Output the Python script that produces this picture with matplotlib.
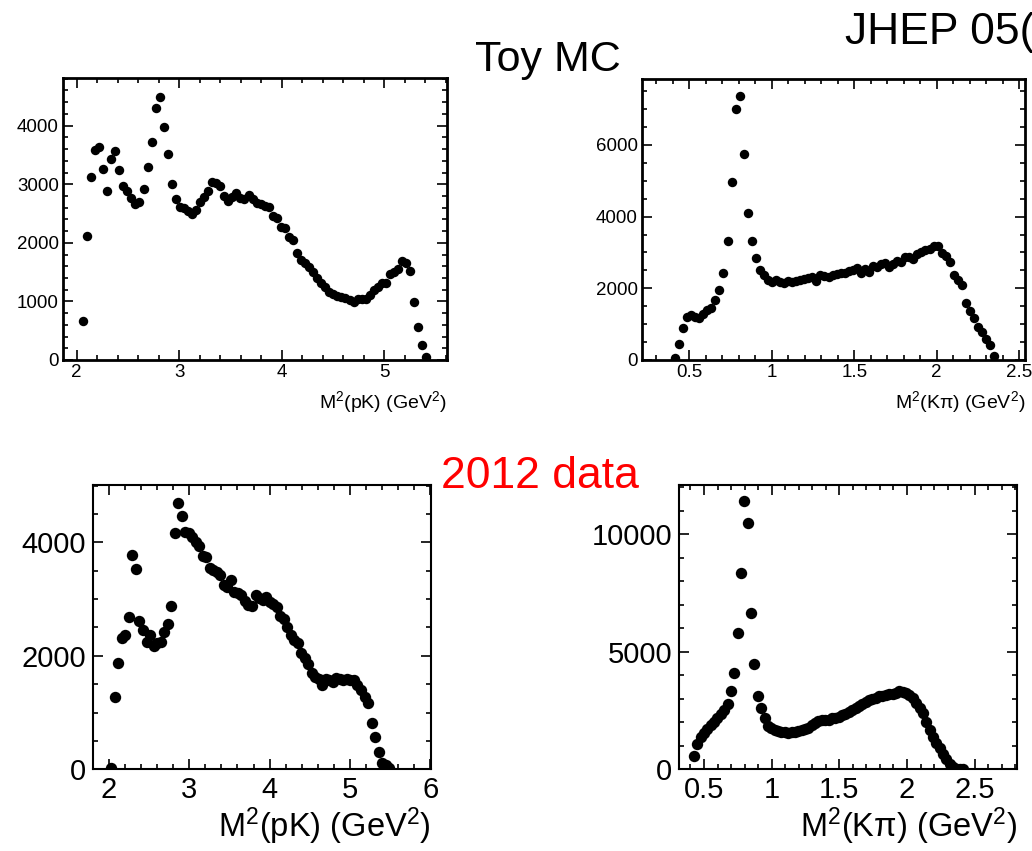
import numpy as np
import matplotlib
matplotlib.use("Agg")
import matplotlib.pyplot as plt
from matplotlib.ticker import MultipleLocator, FuncFormatter

plt.rcParams['font.family'] = ['Liberation Sans', 'DejaVu Sans']
plt.rcParams['mathtext.fontset'] = 'custom'
plt.rcParams['mathtext.rm'] = 'Liberation Sans'
plt.rcParams['mathtext.it'] = 'Liberation Sans:italic'
plt.rcParams['mathtext.bf'] = 'Liberation Sans:bold'

# ---- Toy MC: M^2(pK) histogram (bin-centre range and counts)
toy_pk_range = (2.061, 5.408)
toy_pk_counts = [671, 2111, 3129, 3585, 3641, 3266, 2885, 3436, 3562, 3243,
                 2976, 2891, 2765, 2663, 2692, 2919, 3289, 3727, 4302, 4489,
                 3972, 3516, 3004, 2754, 2606, 2595, 2549, 2492, 2560, 2692,
                 2777, 2880, 3033, 3016, 2976, 2805, 2720, 2788, 2845, 2765,
                 2749, 2822, 2754, 2674, 2663, 2634, 2606, 2464, 2424, 2276,
                 2248, 2105, 2048, 1821, 1707, 1650, 1582, 1497, 1400, 1309,
                 1252, 1155, 1127, 1098, 1070, 1053, 1024, 990, 1036, 1036,
                 1036, 1104, 1195, 1240, 1309, 1309, 1468, 1508, 1553, 1696,
                 1662, 1525, 984, 569, 262, 57]

# ---- Toy MC: M^2(Kpi) histogram
toy_kpi_range = (0.413, 2.348)
toy_kpi_counts = [65, 447, 902, 1209, 1260, 1200, 1160, 1280, 1390, 1460,
                  1670, 1950, 2419, 3321, 4977, 6995, 7367, 5749, 4111, 3321,
                  2837, 2500, 2360, 2240, 2190, 2233, 2186, 2139, 2205, 2186,
                  2214, 2233, 2260, 2279, 2307, 2214, 2372, 2344, 2326, 2372,
                  2400, 2419, 2437, 2493, 2512, 2558, 2419, 2530, 2465, 2623,
                  2605, 2679, 2698, 2605, 2679, 2772, 2744, 2884, 2865, 2809,
                  2958, 3023, 3070, 3107, 3181, 3191, 2995, 2902, 2744, 2372,
                  2233, 2093, 1600, 1377, 1163, 930, 791, 577, 419, 112]

# ---- 2012 data: M^2(pK) histogram
data_pk_range = (2.029, 5.489)
data_pk_counts = [20, 1281, 1875, 2320, 2375, 2685, 3777, 3530, 2605, 2450,
                  2235, 2365, 2165, 2220, 2240, 2426, 2561, 2878, 4170, 4699,
                  4464, 4188, 4159, 4100, 4000, 3930, 3760, 3740, 3545, 3520,
                  3480, 3420, 3250, 3220, 3336, 3130, 3100, 3080, 2960, 2900,
                  2870, 3072, 3013, 2990, 3043, 2955, 2913, 2866, 2702, 2650,
                  2514, 2367, 2279, 2220, 2044, 1956, 1856, 1703, 1633, 1600,
                  1486, 1586, 1574, 1545, 1603, 1586, 1574, 1586, 1574, 1580,
                  1486, 1398, 1280, 1163, 811, 576, 311, 117, 76, 18]

# ---- 2012 data: M^2(Kpi) histogram
data_kpi_range = (0.425, 2.416)
data_kpi_counts = [569, 1065, 1390, 1560, 1720, 1880, 2030, 2190, 2360, 2540,
                   2760, 3348, 4086, 5816, 8368, 11417, 10495, 6638, 4468, 3121,
                   2597, 2171, 1845, 1746, 1670, 1625, 1600, 1575, 1562, 1590,
                   1604, 1620, 1690, 1730, 1760, 1870, 1960, 2040, 2090, 2085,
                   2090, 2165, 2195, 2230, 2300, 2360, 2430, 2520, 2600, 2700,
                   2780, 2860, 2930, 2980, 3040, 3100, 3140, 3160, 3200, 3210,
                   3260, 3348, 3300, 3240, 3150, 3020, 2840, 2620, 2380, 2030,
                   1690, 1380, 1140, 900, 660, 430, 230, 100, 30, 5, 0]

label_pk = r"M$^{2}$(pK) (GeV$^{2}$)"
label_kpi = "M$^{2}$(K\u03c0) (GeV$^{2}$)"

fig = plt.figure(figsize=(10.32, 8.51), dpi=100)

fmt = FuncFormatter(lambda v, p: "%g" % v)


def panel(rect, rng, counts, xlim, ylim, xmaj, xmin, ymaj, ymin, label,
          small):
    ax = fig.add_axes(rect)
    x = np.linspace(rng[0], rng[1], len(counts))
    ax.plot(x, counts, 'o', color='black', ms=6.8 if small else 8.2,
            mec='none', clip_on=True)
    ax.set_xlim(*xlim)
    ax.set_ylim(*ylim)
    ax.xaxis.set_major_locator(MultipleLocator(xmaj))
    ax.xaxis.set_minor_locator(MultipleLocator(xmin))
    ax.yaxis.set_major_locator(MultipleLocator(ymaj))
    ax.yaxis.set_minor_locator(MultipleLocator(ymin))
    ax.xaxis.set_major_formatter(fmt)
    ax.yaxis.set_major_formatter(fmt)
    lw = 2.0 if small else 1.5
    for s in ax.spines.values():
        s.set_linewidth(lw)
    tsize = 13.5 if small else 21
    ax.tick_params(which='both', direction='in', top=True, right=True,
                   width=1.2)
    ax.tick_params(which='major', length=7.5)
    ax.tick_params(which='minor', length=3.8)
    ax.tick_params(axis='x', which='major', labelsize=tsize,
                   pad=3 if small else 5)
    ax.tick_params(axis='y', which='major', labelsize=tsize,
                   pad=3 if small else 5)
    ax.set_xlabel(label, fontsize=14 if small else 23.5, loc='right')
    ax.xaxis.set_label_coords(1.0, -0.102 if small else -0.128)
    return ax


panel([0.0610, 0.5770, 0.3721, 0.3314], toy_pk_range, toy_pk_counts,
      (1.866, 5.61), (0, 4814), 1, 0.2, 1000, 200, label_pk, True)
panel([0.6218, 0.5770, 0.3714, 0.3298], toy_kpi_range, toy_kpi_counts,
      (0.211, 2.535), (0, 7833), 0.5, 0.1, 2000, 500, label_kpi, True)
panel([0.0904, 0.0960, 0.3272, 0.3341], data_pk_range, data_pk_counts,
      (1.804, 6.01), (0, 5010), 1, 0.2, 2000, 500, label_pk, False)
panel([0.6579, 0.0960, 0.3272, 0.3341], data_kpi_range, data_kpi_counts,
      (0.315, 2.81), (0, 12100), 0.5, 0.1, 5000, 1000, label_kpi, False)

fig.text(0.531, 1 - 71 / 851, "Toy MC", fontsize=31, ha='center',
         va='baseline')
fig.text(845 / 1032, 1 - 44 / 851, "JHEP 05(", fontsize=32, ha='left',
         va='baseline')
fig.text(540 / 1032, 1 - 488 / 851, "2012 data", fontsize=32, ha='center',
         va='baseline', color='#ff0000')

fig.savefig("out.png", dpi=100)
